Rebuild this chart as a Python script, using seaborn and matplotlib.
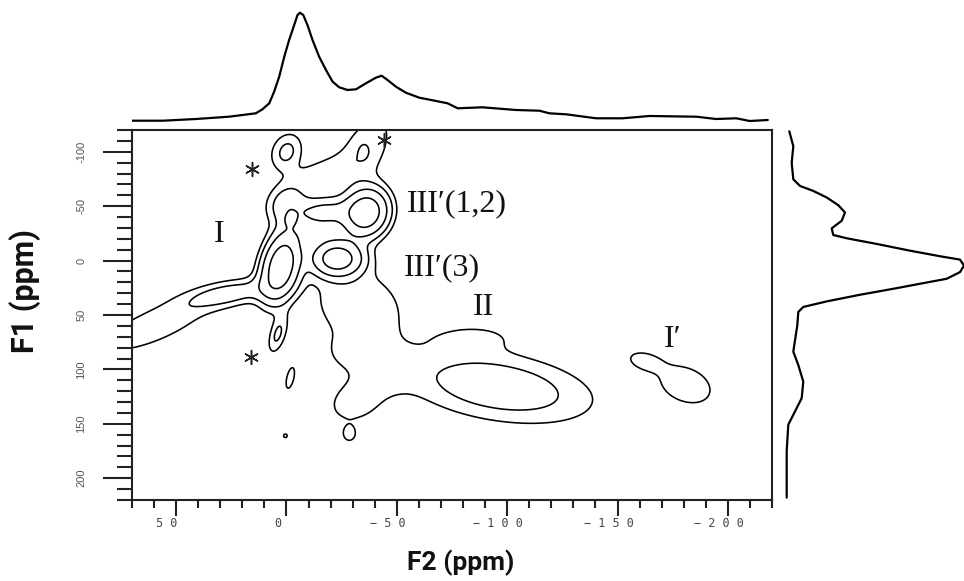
import numpy as np
import matplotlib
matplotlib.use("Agg")
import matplotlib.pyplot as plt
import matplotlib.transforms as mtransforms
from matplotlib import font_manager as fm
import pandas as pd
import seaborn as sns

# ---------------- 1D projections ----------------
top_f2 = [70, 56, 41, 26, 13.9, 10.9, 7.8, 5.6, 3.3, 1.0, -1.2, -3.5, -5.0, -6.1, -7.6, -9.5,
          -11.8, -14.8, -17.9, -20.9, -23.9, -27.7, -31.5, -36.0, -40.5, -43.1, -45.8, -49.6,
          -54.1, -60.2, -67.8, -73.0, -77.6, -88.8, -104, -114.6, -119.1, -126.7, -140.3,
          -152.2, -164.5, -185.7, -194.7, -203.8, -209.9, -218.1]
top_int = [6.3, 6.3, 8, 10.3, 13.7, 17.7, 23.7, 35.3, 50.3, 70.3, 87, 102, 112, 114.3, 112, 102,
           87, 70.3, 57, 45.3, 39.7, 37, 37.7, 43.7, 49.3, 51.3, 47, 40.3,
           34.3, 29.3, 26, 23.7, 18.7, 19.7, 17, 16.3, 13.7, 12.7, 8.7,
           8.7, 11, 10.3, 8, 8.7, 6, 7]

side_f1 = [-118.8, -105.1, -89.9, -74.7, -68.6, -64, -58, -50.9, -44.2, -36.6, -29.6, -23.5,
           -20.5, -15.3, -9.1, -4, -0.9, 4.6, 10.6, 16.7, 21.3, 25.9, 31.4, 37.5, 42.6, 47.2,
           59.4, 83.7, 96, 111.2, 126.4, 141.7, 150.8, 175.1, 217.8]
side_int = [9.3, 13.3, 11.7, 13.3, 20, 33.3, 46.7, 58.3, 65, 61.7, 51.7, 53.3,
            66.7, 96.7, 130, 160, 180, 184, 180, 166.7, 140, 113.3, 80, 46.7, 23.3, 18.3,
            17.3, 13.3, 18.3, 23.3, 21.7, 13.3, 8.3, 6.7, 6.7]

# ---------------- 2D cross peaks ----------------
# centre (F2, F1) in ppm, widths in ppm, tilt (correlation), height
peak_name = ["A", "C", "B1", "B2", "K", "Q", "F", "E", "G", "H1", "H2", "J", "D1", "D2", "N",
             "M1", "M2", "M3", "M4", "II", "IItop", "S1", "S2", "S3", "P1", "P2"]
peak_f2 = [2.5, -23, -36, -17, -14, -22, 0, -1.5, 0, -36, -35, -16, 60, 25, 4,
           -33, -31, -45, -28, -96, -85, -1.7, 0.5, -28.5, -162, -181]
peak_f1 = [5, -2, -44, -44, -24, -75, -52, -36.5, -100, -105, -100, -82, 60, 30, 68,
           42, 130, 102, 85, 116, 70, 108, 161, 160, 92, 114]
peak_w2 = [5.5, 7, 6.2, 8.5, 9, 14, 6, 2.5, 5, 9, 1.5, 10, 20, 14, 3,
           16, 10, 9, 8, 28, 14, 2.5, 1.5, 2.6, 6, 10]
peak_w1 = [19, 10, 13.5, 9, 7, 14, 12, 5, 12, 22, 4.5, 10, 20, 9, 12,
           28, 16, 14, 12, 22, 9, 12.5, 3, 6, 7, 15]
peak_rho = [0.3, 0.0, 0.1, 0.1, 0.0, 0.3, 0.15, 0.0, 0.2, 0.45, 0.0, 0.5, 0.75, 0.5, 0.5,
            -0.2, 0.2, 0.0, 0.0, -0.35, 0.0, 0.5, 0.0, 0.0, -0.3, -0.3]
peak_amp = [12.7, 11.6, 12.7, 5.0, 1.4, 0.6, 3.0, 1.5, 2.4, 1.7, 0.7, 1.1, 1.8, 2.6, 2.2,
            1.8, 1.5, 0.8, 0.9, 3.2, 1.1, 1.3, 1.15, 1.25, 1.5, 1.8]
contour_levels = [1, 2, 4, 8]

x_ticks = [50, 0, -50, -100, -150, -200]
y_ticks = [-100, -50, 0, 50, 100, 150, 200]

label_text = ["I", "III\u2032(1,2)", "III\u2032(3)", "II", "I\u2032"]
label_f2 = [30.5, -54.7, -53.4, -89.2, -175]
label_f1 = [-24.4, -52.7, 6.7, 43.4, 72.5]
label_ha = ["center", "left", "left", "center", "center"]
star_f2 = [15.5, -44.3, 16]
star_f1 = [-83.8, -111, 88.3]

# ---------------- style ----------------
sns.set_style("white")
available = {f.name for f in fm.fontManager.ttflist}
axis_font = "Liberation Sans Narrow" if "Liberation Sans Narrow" in available else "Roboto"
plt.rcParams["font.family"] = ["DejaVu Sans"]

W, H = 964, 581
fig = plt.figure(figsize=(W / 100, H / 100), dpi=100)


def rect(x0, y0, x1, y1):
    return [x0 / W, 1 - y1 / H, (x1 - x0) / W, (y1 - y0) / H]


ax = fig.add_axes(rect(132, 130, 772, 500))
ax_top = fig.add_axes(rect(132, 0, 772, 127))
ax_side = fig.add_axes(rect(780, 130, 964, 500))

# ---------------- contour map ----------------
g2 = np.linspace(70, -220, 900)
g1 = np.linspace(-120, 220, 900)
G2, G1 = np.meshgrid(g2, g1)
Z = np.zeros_like(G2)
for c2, c1, s2, s1, r, a in zip(peak_f2, peak_f1, peak_w2, peak_w1, peak_rho, peak_amp):
    u = (G2 - c2) / s2
    v = (G1 - c1) / s1
    q = (u * u - 2 * r * u * v + v * v) / (1 - r * r)
    Z += a * np.exp(-0.5 * q)
ax.contour(g2, g1, Z, levels=contour_levels, colors="black", linewidths=1.15)

ax.set_xlim(70, -220)
ax.set_ylim(220, -120)

for t, x, y, ha in zip(label_text, label_f2, label_f1, label_ha):
    ax.text(x, y, t, ha=ha, va="center", fontsize=23,
            family=["Liberation Serif", "DejaVu Serif"], color="#111111")
ax.scatter(star_f2, star_f1, marker=(6, 2, 0), s=100, color="#222222", linewidths=1.1, zorder=5)

# axes / ticks
for sp in ax.spines.values():
    sp.set_visible(True)
    sp.set_color("#222222")
    sp.set_linewidth(1.5)


def spaced(v):
    s = " ".join(str(abs(v)))
    return ("\u2212 " + s) if v < 0 else s


ax.set_xticks(x_ticks)
ax.set_xticks(np.arange(-220, 71, 10), minor=True)
ax.set_yticks(y_ticks)
ax.set_yticks(np.arange(-120, 221, 10), minor=True)
ax.set_xticklabels([spaced(v) for v in x_ticks], family="DejaVu Sans Mono", fontsize=8.5,
                   color="#444444")
ax.set_yticklabels([str(v) for v in y_ticks], rotation=90, va="center",
                   family="Liberation Sans", fontsize=8, color="#555555")
ax.tick_params(axis="both", which="both", bottom=True, left=True, top=False, right=False)
ax.tick_params(axis="x", which="major", direction="out", length=11.5, width=1.5, pad=1,
               color="#222222", labelcolor="#444444")
ax.tick_params(axis="x", which="minor", direction="out", length=5.8, width=1.5, color="#222222")
ax.tick_params(axis="y", which="major", direction="out", length=21, width=1.5, pad=12,
               color="#222222", labelcolor="#555555")
ax.tick_params(axis="y", which="minor", direction="out", length=10.5, width=1.5, color="#222222")
shift = mtransforms.ScaledTranslation(-9 / 100, 0, fig.dpi_scale_trans)
for lbl in ax.get_xticklabels():
    lbl.set_transform(lbl.get_transform() + shift)
ax.set_xlabel("")
ax.set_ylabel("")

# ---------------- projections ----------------
top_df = pd.DataFrame({"F2": top_f2, "I": top_int})
sns.lineplot(data=top_df, x="F2", y="I", ax=ax_top, color="black", linewidth=1.6,
             sort=False, estimator=None)
ax_top.set_xlim(70, -220)
ax_top.set_ylim(0, 127)
ax_top.axis("off")

side_df = pd.DataFrame({"F1": side_f1, "I": side_int})
sns.lineplot(data=side_df, x="I", y="F1", ax=ax_side, color="black", linewidth=1.6,
             sort=False, estimator=None, orient="y")
ax_side.set_xlim(0, 184)
ax_side.set_ylim(220, -120)
ax_side.axis("off")

# ---------------- axis titles ----------------
fig.text(25 / W, 1 - 291 / H, "F1 (ppm)", rotation=90, ha="center", va="center",
         fontsize=22, fontweight="bold", family=[axis_font, "DejaVu Sans"], color="#111111")
fig.text(461 / W, 1 - 563 / H, "F2 (ppm)", ha="center", va="center",
         fontsize=19, fontweight="bold", family=[axis_font, "DejaVu Sans"], color="#111111")

fig.savefig("out.png", dpi=100)
